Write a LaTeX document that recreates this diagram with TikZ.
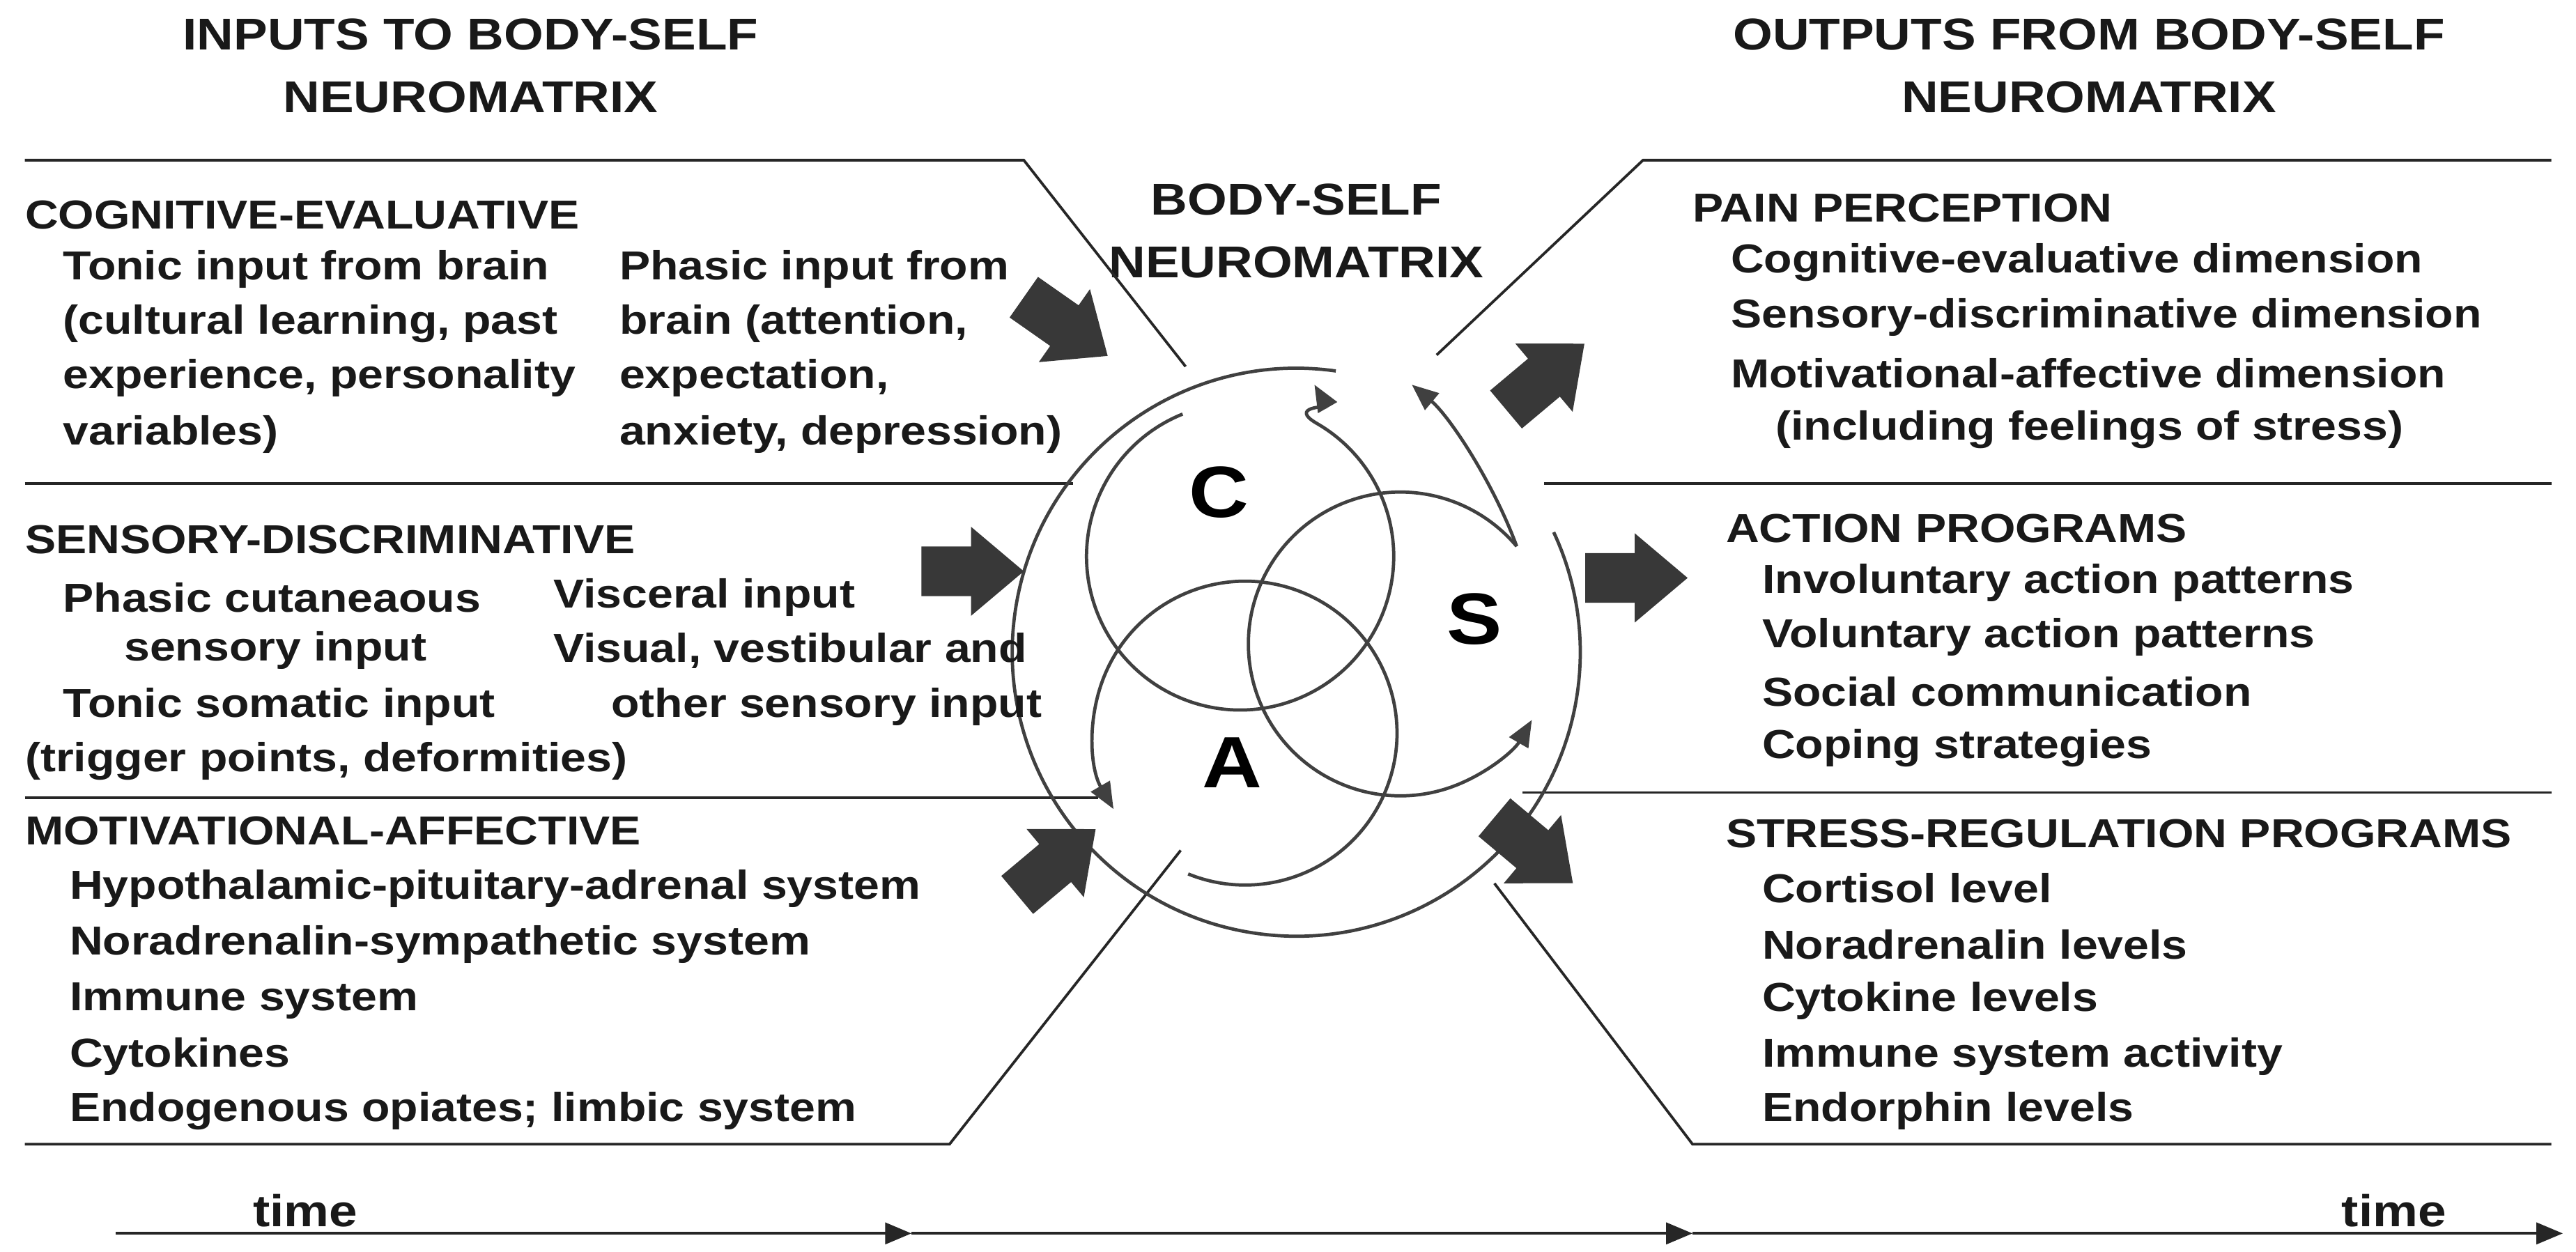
\documentclass[tikz,border=0pt]{standalone}
\usepackage{fontspec}
\setmainfont{Liberation Sans}[FakeStretch=1.14]
\usetikzlibrary{arrows.meta,calc}
\begin{document}
\begin{tikzpicture}[x=1pt,y=-1pt,
  line/.style={line width=1.6pt, draw=black!85},
  ring/.style={line width=2pt, draw=black!75},
  tx/.style={anchor=west, font=\fontsize{24.5}{28}\selectfont\bfseries, inner sep=0pt, text=black!90},
  hd/.style={align=center, font=\fontsize{27}{38}\selectfont\bfseries, inner sep=0pt, text=black!90},
  lt/.style={font=\fontsize{44}{44}\selectfont\bfseries, inner sep=0pt},
  tip/.style={-{Triangle[length=16pt,width=13pt]}},
  pics/barrow/.style={code={\fill[black!78] (0,-15)--(30,-15)--(30,-27)--(62,0)--(30,27)--(30,15)--(0,15)--cycle;}}]
\useasboundingbox (0,0) rectangle (1560,758);
% headings
\node[hd] (h1) at (285,40) {INPUTS TO BODY-SELF\\NEUROMATRIX};
\node[hd] (h2) at (785,140) {BODY-SELF\\NEUROMATRIX};
\node[hd] (h3) at (1265,40) {OUTPUTS FROM BODY-SELF\\NEUROMATRIX};
% frame lines
\coordinate (a1) at (15,97); \coordinate (a2) at (620,97); \coordinate (a3) at (718,222);
\draw[line] (a1)--(a2)--(a3);
\coordinate (b1) at (15,293); \coordinate (b2) at (650,293); \draw[line] (b1)--(b2);
\coordinate (c1) at (15,483); \coordinate (c2) at (665,483); \draw[line] (c1)--(c2);
\coordinate (d1) at (15,693); \coordinate (d2) at (575,693); \coordinate (d3) at (715,515);
\draw[line] (d1)--(d2)--(d3);
\coordinate (e1) at (870,215); \coordinate (e2) at (995,97); \coordinate (e3) at (1545,97);
\draw[line] (e1)--(e2)--(e3);
\coordinate (f1) at (935,293); \coordinate (f2) at (1545,293); \draw[line] (f1)--(f2);
\coordinate (g1) at (922,480); \coordinate (g2) at (1545,480); \draw[line] (g1)--(g2);
\coordinate (k1) at (905,535); \coordinate (k2) at (1025,693); \coordinate (k3) at (1545,693);
\draw[line] (k1)--(k2)--(k3);
% time axis
\coordinate (t0) at (70,747); \coordinate (t1) at (552,747); \coordinate (t2) at (1025,747); \coordinate (t3) at (1552,747);
\draw[line,tip] (t0)--(t1);
\draw[line,tip] (t1)--(t2);
\draw[line,tip] (t2)--(t3);
\node[tx] (time1) at (153,733) {\fontsize{27}{30}\selectfont time};
\node[tx] (time2) at (1418,733) {\fontsize{27}{30}\selectfont time};
% circles (angles negated because y points down)
\coordinate (O) at (785,395);
\coordinate (C) at (751,337);
\coordinate (A) at (754,444);
\coordinate (S) at (848,390);
\draw[ring] ($(O)+(-82:172)$) arc[start angle=-82,end angle=-385,radius=172];
\draw[ring,tip] ($(C)+(-112:93)$) arc[start angle=-112,end angle=-420,radius=93] .. controls +(-150:20) and +(60:15) .. (796,233);
\draw[ring,tip] ($(A)+(112:92)$) arc[start angle=112,end angle=-210,radius=92];
\draw[ring,tip] ($(S)+(-140:92)$) arc[start angle=-140,end angle=-330,radius=92];
\draw[ring] ($(S)+(-140:92)$) arc[start angle=-140,end angle=-40,radius=92];
\coordinate (s0) at ($(S)+(-40:92)$);
\coordinate (s1) at (855,233);
\draw[ring,tip] (s0) .. controls +(-110:40) and +(40:30) .. (s1);
\node[lt] (LC) at (738,298) {C};
\node[lt] (LS) at (893,375) {S};
\node[lt] (LA) at (746,462) {A};
% block arrows
\pic[rotate=-35] at (620,180) {barrow};
\pic at (558,346) {barrow};
\pic[rotate=40] at (616,542) {barrow};
\pic[rotate=40] at (912,248) {barrow};
\pic at (960,350) {barrow};
\pic[rotate=-40] at (905,495) {barrow};
% left texts
\node[tx] (t01) at (15,130) {COGNITIVE-EVALUATIVE};
\node[tx] (t02) at (38,163) {Tonic input from brain};
\node[tx] (t03) at (38,196) {(cultural learning, past};
\node[tx] (t04) at (38,229) {experience, personality};
\node[tx] (t05) at (38,263) {variables)};
\node[tx] (t06) at (375,163) {Phasic input from};
\node[tx] (t07) at (375,196) {brain (attention,};
\node[tx] (t08) at (375,229) {expectation,};
\node[tx] (t09) at (375,263) {anxiety, depression)};
\node[tx] (t10) at (15,327) {SENSORY-DISCRIMINATIVE};
\node[tx] (t11) at (38,362) {Phasic cutaneaous};
\node[tx] (t12) at (75,394) {sensory input};
\node[tx] (t13) at (38,428) {Tonic somatic input};
\node[tx] (t14) at (15,461) {(trigger points, deformities)};
\node[tx] (t15) at (335,362) {Visceral input};
\node[tx] (t16) at (335,394) {Visual, vestibular and};
\node[tx] (t17) at (370,428) {other sensory input};
\node[tx] (t18) at (15,503) {MOTIVATIONAL-AFFECTIVE};
\node[tx] (t19) at (42,538) {Hypothalamic-pituitary-adrenal system};
\node[tx] (t20) at (42,572) {Noradrenalin-sympathetic system};
\node[tx] (t21) at (42,606) {Immune system};
\node[tx] (t22) at (42,640) {Cytokines};
\node[tx] (t23) at (42,673) {Endogenous opiates; limbic system};
% right texts
\node[tx] (r01) at (1025,126) {PAIN PERCEPTION};
\node[tx] (r02) at (1048,159) {Cognitive-evaluative dimension};
\node[tx] (r03) at (1048,192) {Sensory-discriminative dimension};
\node[tx] (r04) at (1048,226) {Motivational-affective dimension};
\node[tx] (r05) at (1075,260) {(including feelings of stress)};
\node[tx] (r06) at (1045,320) {ACTION PROGRAMS};
\node[tx] (r07) at (1067,353) {Involuntary action patterns};
\node[tx] (r08) at (1067,386) {Voluntary action patterns};
\node[tx] (r09) at (1067,419) {Social communication};
\node[tx] (r10) at (1067,453) {Coping strategies};
\node[tx] (r11) at (1045,505) {STRESS-REGULATION PROGRAMS};
\node[tx] (r12) at (1067,538) {Cortisol level};
\node[tx] (r13) at (1067,572) {Noradrenalin levels};
\node[tx] (r14) at (1067,606) {Cytokine levels};
\node[tx] (r15) at (1067,640) {Immune system activity};
\node[tx] (r16) at (1067,673) {Endorphin levels};
\end{tikzpicture}
\end{document}
